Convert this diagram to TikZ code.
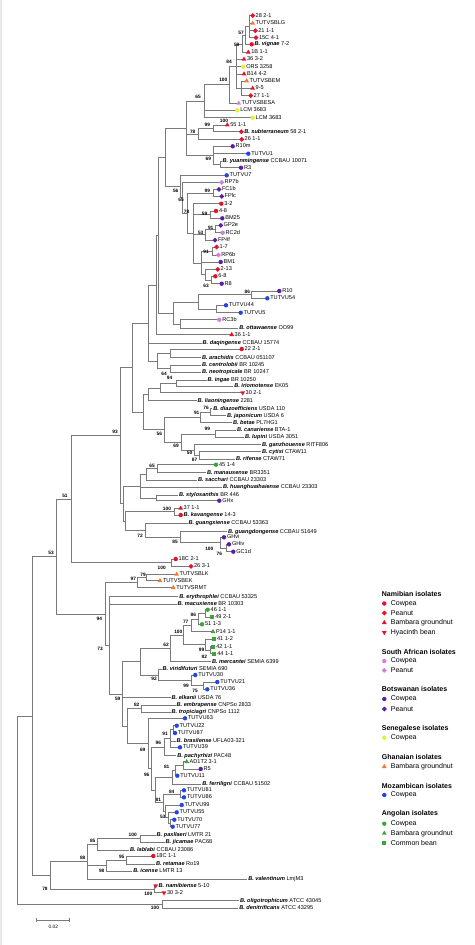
\documentclass[tikz,border=0pt]{standalone}
\usepackage{fontspec}
\setmainfont{Liberation Sans}
\usetikzlibrary{shapes.geometric}
\definecolor{cbr}{HTML}{7A7A7A}
\definecolor{cred}{HTML}{E8102A}
\definecolor{clil}{HTML}{D07FE0}
\definecolor{cpur}{HTML}{5A1FA6}
\definecolor{cyel}{HTML}{E6F03A}
\definecolor{cora}{HTML}{F07A2E}
\definecolor{cblu}{HTML}{2345E6}
\definecolor{cgrn}{HTML}{3DA535}
\definecolor{cstrip}{HTML}{E8E8E8}
\newcommand\spn[1]{\textbf{\textit{#1}}}
\newcommand\mkl[3]{\node[#2] (#1m) at (#1) {}; \node[lab] (#1t) at ([xshift=2.8pt]#1) {#3};}
\newcommand\spl[2]{\node[lab] (#1t) at ([xshift=0.8pt]#1) {#2};}
\begin{document}
\begin{tikzpicture}[x=1pt,y=-1pt,
  br/.style={draw=cbr, line width=0.6pt},
  mk/.style={inner sep=0pt, outer sep=0pt, draw=none},
  circ/.style={mk, circle, minimum size=4.4pt},
  tri/.style={mk, regular polygon, regular polygon sides=3, minimum size=5.6pt},
  itri/.style={tri, shape border rotate=180},
  dia/.style={mk, diamond, minimum size=5pt},
  sqr/.style={mk, rectangle, minimum size=3.8pt},
  rc/.style={circ, fill=cred}, rd/.style={dia, fill=cred}, rt/.style={tri, fill=cred}, rv/.style={itri, fill=cred},
  lc/.style={circ, fill=clil}, ld/.style={dia, fill=clil}, lt/.style={tri, fill=clil},
  pc/.style={circ, fill=cpur}, pd/.style={dia, fill=cpur},
  yc/.style={circ, fill=cyel}, ot/.style={tri, fill=cora}, bc/.style={circ, fill=cblu},
  gc/.style={circ, fill=cgrn}, gt/.style={tri, fill=cgrn}, gs/.style={sqr, fill=cgrn},
  lab/.style={anchor=west, inner sep=0pt, text height=3.9pt, text depth=1.1pt, font=\fontsize{5.6}{6.5}\selectfont},
  bs/.style={inner sep=0pt, font=\fontsize{4.8}{5}\selectfont\bfseries},
  lhd/.style={anchor=west, inner sep=0pt, font=\fontsize{7}{8}\selectfont\bfseries},
  lit/.style={anchor=west, inner sep=0pt, font=\fontsize{7}{8}\selectfont}]
\useasboundingbox (0,0) rectangle (474,945);
\fill[cstrip] (0,0) rectangle (2.3,945);
% leaf tips
\foreach \n/\x/\y in {a01/252.7/15.7, a02/252.7/23.3, a03/255.3/30.7, a04/256/37.7, a05/251.7/44.3,
 a06/248.3/52.3, a07/244/59.3, a08/243.3/66.7, a09/244/74, a10/246.7/81, a11/252.7/88.3, a12/250.7/95.7,
 a13/238.7/103.3, a14/237.3/110.3, a15/252.7/117.7, a16/227.3/125, a17/241.3/131.7, a18/241.7/139.3,
 a19/232.7/146.3, a20/248.3/153.7, a21/221.7/161, a22/241/167.7, a23/226.7/175.3, a24/221.7/182.3,
 a25/219/189.3, a26/221.7/196.3, a27/221.3/203.7, a28/216/211, a29/222.3/218.3, a30/220.7/225.3,
 a31/222.7/232.7, a32/215/240, a33/216.7/247, a34/218.3/255, a35/220.7/262, a36/217.7/269.3,
 a37/215.3/276.3, a38/221.7/283.7, a39/279.3/291, a40/267.3/298.3, a41/226/305.3, a42/240.7/312.7,
 a43/219.3/319.7, a44/238.3/328, a45/231.7/334.7, a46/201.7/343, a47/241.7/349, a48/201/357.7,
 a49/201/365, a50/201/372.3, a51/206.7/380, a52/233.3/386.5, a53/242.7/392.7, a54/196.7/400.7,
 a55/212.3/408.7, a56/226/415.7, a57/232/422.7, a58/236/430.3, a59/244/437.3, a60/261/444.7,
 a61/261/451.7, a62/235/459.3, a63/216/464.7, a64/206/472.7, a65/197/480, a66/222/487.3,
 a67/178/495, a68/219.3/500.7, a69/180.7/508.3, a70/180.7/515, a71/187.5/523.3, a72/227/531.7,
 a73/224/537.3, a74/229/544.3, a75/233.3/551.7, a76/175.7/559, a77/191/566.3, a78/176.7/574.3,
 a79/160/580.7, a80/173.3/587.7, a81/178.3/596.7, a82/176.7/604.3, a83/207.7/609.7, a84/212.3/617,
 a85/202/624.3, a86/213/631.7, a87/214/639.3, a88/213.3/646.7, a89/214.3/653.7, a90/211/661.7,
 a91/161.7/669.3, a92/195.3/675, a93/217.3/682, a94/207.3/689.3, a95/170.7/697.7, a96/175.7/705,
 a97/170.7/712.3, a98/185/718.3, a99/176.7/725.7, b00/175/733, b01/175.7/741, b02/180/747.3,
 b03/176.3/755.7, b04/186.7/761.7, b05/200.7/769, b06/177.3/775.7, b07/201.3/784.3, b08/184/790.3,
 b09/184/797.3, b10/181.7/805, b11/176.7/812.3, b12/174.3/819.7, b13/172.7/826.7, b14/155.7/835,
 b15/164.7/842.3, b16/129/850, b17/153.3/856, b18/155/864, b19/132.3/871.3, b20/247.3/879,
 b21/155.7/885.7, b22/164/892.7, b23/239/900.7, b24/238.3/908}
 \coordinate (\n) at (\x,\y);
% internal nodes
\foreach \n/\x/\y in {nAB/249/26.7, n57/245.5/35.5, n58/242/43.9, nT/241/88.35, n84/236.5/66.1,
 n100/229.5/84.7, n65/204/101.2, n99/213/128.35, n78/198.5/133.8, n69/220/164.35, nR/213/155.3,
 nQ/186/128.25, n99b/213.3/192.8, n59/210/214.65, n91/215/229, n53/205/234.5, n91b/212/251,
 n63/211/280, n213/205/274.65, nLow/201.7/262.8, n78c/193/233.25, n65b/187/213, n56/182.7/197.65,
 nR7/180.3/186.5, N165/165.7/157.4, n86/251.7/294.65, n45/216.7/309, nTUT/198.3/301.8,
 nRC/180/323.85, N173/173.3/312.8, N158/158.3/235.1, N156/156/284.9, n22/170/353.35,
 n64/170/368.65, nac/157.3/361, N148/148.3/323, n94/176/383.25, ning/160/388, nlia/148.3/394.35,
 n76/210.7/412.2, n91c/200/417.45, n99c/215/433.8, n87/199/455.5, n50/194/450.1, n69c/181.7/441.95,
 n56b/164/429.7, N143/143.3/412, N132/132.7/367.5, n65c/157.3/468.7, nsac/146.7/474.35,
 nsty/156/497.85, N140/140/486.1, n100k/174/511.65, n76g/226.7/548, n100g/220/542.65,
 n85g/180/537.2, n72/145/530.25, N125/125/520.95, N123/123.3/503.5, N120/120/435.5,
 n18/171.7/562.65, N71/71/499.1, n79/146.7/577.5, n97/137.3/582.6, na/205.7/613.35,
 n86a/198/618.8, n77/191.7/625.25, n82/210/650.2, n99a/205/644.75, n100a/183.3/635,
 n62/170/648.35, n75/203.3/685.65, n99v/191.7/680.3, n92/158/674.8, n6292/140/661.6,
 n82b/141.7/708.65, n91d/173.3/729.35, nb/170/738.3, n96a/164/747, nar/183.3/765.35,
 n81/175/770.5, nf/172.7/777.4, n84b/180/793.8, n77b/170/823.2, n53b/168/817.75, n99d/165/811.4,
 n81b/163.3/802.6, ng/155/790, n96b/151.7/768.5, n69d/148.3/743.4, N127/127.3/726,
 N122/122.7/693.8, N109/109.3/645.25, N105/105.7/613.9, N567/56.7/556.5, n100p/140.7/838.65,
 n85/97.3/844.3, n95/126.7/860, n98/106.7/865.65, n88/87.7/861.65, n100n/154/889.2,
 n78b/50/875.4, N32/32.3/715.95, n100o/162.3/904.35, root/17.3/810.15}
 \coordinate (\n) at (\x,\y);
% branches
\foreach \p/\c in {nAB/a01, nAB/a02, nAB/a03, nAB/a04, n57/nAB, n57/a05, n58/n57, n58/a06,
 nT/a10, nT/a11, nT/a12, n84/n58, n84/a07, n84/a08, n84/a09, n84/nT, n100/n84, n100/a13,
 n65/n100, n65/a14, n65/a15, n99/a16, n99/a17, n78/n99, n78/a18, n69/a21, n69/a22,
 nR/a19, nR/a20, nR/n69, nQ/n65, nQ/n78, nQ/nR, n99b/a25, n99b/a26, n59/a28, n59/a29,
 n91/a30, n91/a31, n53/n91, n53/a32, n91b/a33, n91b/a34, n63/a37, n63/a38, n213/a36, n213/n63,
 nLow/n91b, nLow/a35, nLow/n213, n78c/a27, n78c/n59, n78c/n53, n78c/nLow, n65b/n99b, n65b/n78c,
 n56/a24, n56/n65b, nR7/a23, nR7/n56, N165/nQ, N165/nR7, n86/a39, n86/a40, n45/a41, n45/a42,
 nTUT/n86, nTUT/n45, nRC/a43, nRC/a44, N173/nTUT, N173/nRC, N158/N165, N158/N173,
 N156/N158, N156/a45, n22/a47, n22/a48, n64/a49, n64/a50, nac/n22, nac/n64,
 N148/N156, N148/a46, N148/nac, n94/a51, n94/a52, ning/n94, ning/a53, nlia/ning, nlia/a54,
 n76/a55, n76/a56, n91c/n76, n91c/a57, n99c/a58, n99c/a59, n87/a61, n87/a62, n50/a60, n50/n87,
 n69c/n99c, n69c/n50, n56b/n91c, n56b/n69c, N143/nlia, N143/n56b, N132/N148, N132/N143,
 n65c/a63, n65c/a64, nsac/n65c, nsac/a65, nsty/a67, nsty/a68, N140/nsac, N140/a66, N140/nsty,
 n100k/a69, n100k/a70, n76g/a74, n76g/a75, n100g/a73, n100g/n76g, n85g/a72, n85g/n100g,
 n72/a71, n72/n85g, N125/n100k, N125/n72, N123/N140, N123/N125, N120/N132, N120/N123,
 n18/a76, n18/a77, N71/N120, N71/n18, n79/a78, n79/a79, n97/n79, n97/a80,
 na/a83, na/a84, n86a/na, n86a/a85, n77/n86a, n77/a86, n82/a88, n82/a89, n99a/a87, n99a/n82,
 n100a/n77, n100a/n99a, n62/n100a, n62/a90, n75/a93, n75/a94, n99v/a92, n99v/n75,
 n92/a91, n92/n99v, n6292/n62, n6292/n92, n82b/a96, n82b/a97, n91d/a99, n91d/b00,
 nb/n91d, nb/b01, nb/b02, n96a/nb, n96a/b03, nar/b04, nar/b05, n81/nar, n81/b06, nf/n81, nf/b07,
 n84b/b08, n84b/b09, n77b/b12, n77b/b13, n53b/b11, n53b/n77b, n99d/b10, n99d/n53b,
 n81b/n84b, n81b/n99d, ng/nf, ng/n81b, n96b/n96a, n96b/ng, n69d/a98, n69d/n96b,
 N127/n82b, N127/n69d, N122/n6292, N122/a95, N122/N127, N109/a81, N109/a82, N109/N122,
 N105/n97, N105/N109, N567/N71, N567/N105, n100p/b14, n100p/b15, n85/n100p, n85/b16,
 n95/b17, n95/b18, n98/n95, n98/b19, n88/n85, n88/n98, n88/b20, n100n/b21, n100n/b22,
 n78b/n88, n78b/n100n, N32/N567, N32/n78b, n100o/b23, n100o/b24, root/N32, root/n100o}
 \draw[br] (\p) |- (\c);
% leaf markers and labels
\mkl{a01}{rd}{28 2-1} \mkl{a02}{ot}{TUTVSBLG} \mkl{a03}{rd}{21 1-1} \mkl{a04}{rd}{15C 4-1}
\mkl{a05}{rc}{\spn{B. vignae} 7-2} \mkl{a06}{rt}{1B 1-1} \mkl{a07}{rt}{36 3-2} \mkl{a08}{yc}{ORS 3258}
\mkl{a09}{rt}{B14 4-2} \mkl{a10}{ot}{TUTVSBEM} \mkl{a11}{rt}{9-5} \mkl{a12}{rd}{27 1-1}
\mkl{a13}{lt}{TUTVSBESA} \mkl{a14}{yc}{LCM 3683} \mkl{a15}{yc}{LCM 3683} \mkl{a16}{rt}{55 1-1}
\mkl{a17}{rd}{\spn{B. subterraneum} 58 2-1} \mkl{a18}{rd}{26 1-1} \mkl{a19}{pc}{R10m} \mkl{a20}{bc}{TUTVU1}
\spl{a21}{\spn{B. yuanmingense} CCBAU 10071} \mkl{a22}{pc}{R3} \mkl{a23}{bc}{TUTVU7} \mkl{a24}{ld}{RP7b}
\mkl{a25}{pd}{FC1b} \mkl{a26}{pd}{FPlc} \mkl{a27}{rc}{3-2} \mkl{a28}{rc}{4-8} \mkl{a29}{pc}{BM25}
\mkl{a30}{pd}{GP2e} \mkl{a31}{lc}{RC2d} \mkl{a32}{pd}{FP4f} \mkl{a33}{rd}{1-7} \mkl{a34}{ld}{RP6b}
\mkl{a35}{pc}{BM1} \mkl{a36}{rd}{2-13} \mkl{a37}{rc}{6-8} \mkl{a38}{pc}{R8} \mkl{a39}{pc}{R10}
\mkl{a40}{bc}{TUTVU54} \mkl{a41}{bc}{TUTVU44} \mkl{a42}{bc}{TUTVU5} \mkl{a43}{lc}{RC3b}
\spl{a44}{\spn{B. ottawaense} OO99} \mkl{a45}{rt}{36 1-1} \spl{a46}{\spn{B. daqingense} CCBAU 15774}
\mkl{a47}{rc}{22 2-1} \spl{a48}{\spn{B. arachidis} CCBAU 051107} \spl{a49}{\spn{B. centrolobii} BR 10245}
\spl{a50}{\spn{B. neotropicale} BR 10247} \spl{a51}{\spn{B. ingae} BR 10250} \spl{a52}{\spn{B. iriomotense} EK05}
\mkl{a53}{rv}{30 2-1} \spl{a54}{\spn{B. liaoningense} 2281} \spl{a55}{\spn{B. diazoefficiens} USDA 110}
\spl{a56}{\spn{B. japonicum} USDA 6} \spl{a57}{\spn{B. betae} PL7HG1} \spl{a58}{\spn{B. canariense} BTA-1}
\spl{a59}{\spn{B. lupini} USDA 3051} \spl{a60}{\spn{B. ganzhouense} RITF806} \spl{a61}{\spn{B. cytisi} CTAW11}
\spl{a62}{\spn{B. rifense} CTAW71} \mkl{a63}{gc}{45 1-4} \spl{a64}{\spn{B. manausense} BR3351}
\spl{a65}{\spn{B. sacchari} CCBAU 23303} \spl{a66}{\spn{B. huanghuaihaiense} CCBAU 23303}
\spl{a67}{\spn{B. stylosanthis} BR 446} \mkl{a68}{pc}{GHx} \mkl{a69}{rt}{37 1-1}
\mkl{a70}{rc}{\spn{B. kavangense} 14-3} \spl{a71}{\spn{B. guangxiense} CCBAU 53363}
\spl{a72}{\spn{B. guangdongense} CCBAU 51649} \mkl{a73}{pc}{GHvi} \mkl{a74}{pc}{GHiv} \mkl{a75}{pc}{GC1d}
\mkl{a76}{rc}{18C 2-1} \mkl{a77}{rd}{26 3-1} \mkl{a78}{ot}{TUTVSBLK} \mkl{a79}{ot}{TUTVSBEK}
\mkl{a80}{ot}{TUTVSRMT} \spl{a81}{\spn{B. erythrophlei} CCBAU 53325} \spl{a82}{\spn{B. macuxiense} BR 10303}
\mkl{a83}{gc}{46 1-1} \mkl{a84}{gs}{49 2-1} \mkl{a85}{gc}{51 1-3} \mkl{a86}{gt}{P14 1-1}
\mkl{a87}{gs}{41 1-2} \mkl{a88}{gs}{42 1-1} \mkl{a89}{gs}{44 1-1} \spl{a90}{\spn{B. mercantei} SEMIA 6399}
\spl{a91}{\spn{B. viridifuturi} SEMIA 690} \mkl{a92}{bc}{TUTVU30} \mkl{a93}{bc}{TUTVU21} \mkl{a94}{bc}{TUTVU36}
\spl{a95}{\spn{B. elkanii} USDA 76} \spl{a96}{\spn{B. embrapense} CNPSo 2833} \spl{a97}{\spn{B. tropiciagri} CNPSo 1112}
\mkl{a98}{bc}{TUTVU63} \mkl{a99}{bc}{TUTVU22} \mkl{b00}{bc}{TUTVU87} \spl{b01}{\spn{B. brasilense} UFLA03-321}
\mkl{b02}{bc}{TUTVU39} \spl{b03}{\spn{B. pachyrhizi} PAC48} \mkl{b04}{gt}{AD1T2 3-1} \mkl{b05}{pc}{R5}
\mkl{b06}{bc}{TUTVU11} \spl{b07}{\spn{B. ferriligni} CCBAU 51502} \mkl{b08}{bc}{TUTVU81} \mkl{b09}{bc}{TUTVU86}
\mkl{b10}{bc}{TUTVU99} \mkl{b11}{bc}{TUTVU55} \mkl{b12}{bc}{TUTVU70} \mkl{b13}{bc}{TUTVU77}
\spl{b14}{\spn{B. paxllaeri} LMTR 21} \spl{b15}{\spn{B. jicamae} PAC68} \spl{b16}{\spn{B. lablabi} CCBAU 23086}
\mkl{b17}{rc}{18C 1-1} \spl{b18}{\spn{B. retamae} Ro19} \spl{b19}{\spn{B. icense} LMTR 13}
\spl{b20}{\spn{B. valentinum} LmjM3} \mkl{b21}{rv}{\spn{B. namibiense} 5-10} \mkl{b22}{rv}{30 3-2}
\spl{b23}{\spn{B. oligotrophicum} ATCC 43045} \spl{b24}{\spn{B. denitrificans} ATCC 43295}
% bootstrap values
\foreach \t/\x/\y [count=\i] in {57/241/33.3, 58/236.7/45, 84/229/61.7, 100/223.3/80, 65/198/96.5,
 99/207.3/125, 100/224/121.3, 78/192.7/131.7, 69/208.3/159.3, 56/175.7/190.7, 65/181/200.3,
 99/207.3/190.7, 78/186.5/212, 59/204.5/213.5, 91/210.7/227.7, 53/200.7/233.3, 91/206/252,
 63/206/286, 86/247.3/291.7, 64/164/374, 94/169.5/378.3, 76/206/407.7, 91/196.7/413,
 99/207.3/429.3, 56/159.3/434.3, 69/176/446, 50/189.5/453.3, 87/194.5/459.5, 93/115/431.7,
 65/152/466, 100/167/509.3, 72/140/536, 85/175/541.7, 100/209.3/549, 76/219.3/554, 51/65/495.7,
 53/51/553.3, 100/161.7/568.3, 79/143/574.5, 97/133.3/579.2, 94/99.3/619.3, 73/100/649.3,
 86/193.3/615, 77/185.7/621.7, 100/178.3/631.7, 62/166/645, 99/201.5/650, 82/204.3/656.5,
 92/154/679, 99/186/686, 75/195/691, 59/117.7/699, 82/136.7/705, 91/165/734.3, 96/158.3/743.3,
 69/142.7/750, 81/166.7/766.7, 96/146.7/775, 84/171.7/791.7, 81/158.3/800, 53/162.7/816.7,
 100/132.7/835, 85/92.7/840.7, 95/121.7/856.7, 88/82.7/858.3, 98/101.7/870.7, 78/45/889.3,
 100/148.3/894, 100/155/908.3}
 \node[bs] (bs\i) at (\x,\y) {\t};
% scale bar
\coordinate (sb1) at (36.7,920); \coordinate (sb2) at (69,920);
\draw[br] (sb1) -- (sb2);
\draw[br] ([yshift=-1.6pt]sb1) -- ([yshift=1.6pt]sb1);
\draw[br] ([yshift=-1.6pt]sb2) -- ([yshift=1.6pt]sb2);
\node[bs, font=\fontsize{4.8}{5}\selectfont] (sbl) at (53.3,926.7) {0.02};
% legend
\node[lhd] (h1) at (381.7,594) {Namibian isolates};
\node[rc] (g11) at (384.3,603.5) {}; \node[lit] (l11) at (390.7,603.5) {Cowpea};
\node[rd] (g12) at (384.3,613) {}; \node[lit] (l12) at (390.7,613) {Peanut};
\node[rt] (g13) at (384.3,622.7) {}; \node[lit] (l13) at (390.7,622.7) {Bambara groundnut};
\node[rv] (g14) at (384.3,632.4) {}; \node[lit] (l14) at (390.7,632.4) {Hyacinth bean};
\node[lhd] (h2) at (381.7,651.7) {South African isolates};
\node[lc] (g21) at (384.3,661) {}; \node[lit] (l21) at (390.7,661) {Cowpea};
\node[ld] (g22) at (384.3,670.3) {}; \node[lit] (l22) at (390.7,670.3) {Peanut};
\node[lhd] (h3) at (381.7,689.3) {Botswanan isolates};
\node[pc] (g31) at (384.3,699) {}; \node[lit] (l31) at (390.7,699) {Cowpea};
\node[pd] (g32) at (384.3,709) {}; \node[lit] (l32) at (390.7,709) {Peanut};
\node[lhd] (h4) at (381.7,728.3) {Senegalese isolates};
\node[yc] (g41) at (384.3,737.7) {}; \node[lit] (l41) at (390.7,737.7) {Cowpea};
\node[lhd] (h5) at (381.7,756.7) {Ghanaian isolates};
\node[ot] (g51) at (384.3,766.7) {}; \node[lit] (l51) at (390.7,766.7) {Bambara groundnut};
\node[lhd] (h6) at (381.7,785.7) {Mozambican isolates};
\node[bc] (g61) at (384.3,795) {}; \node[lit] (l61) at (390.7,795) {Cowpea};
\node[lhd] (h7) at (381.7,814) {Angolan isolates};
\node[gc] (g71) at (384.3,823.7) {}; \node[lit] (l71) at (390.7,823.7) {Cowpea};
\node[gt] (g72) at (384.3,833.3) {}; \node[lit] (l72) at (390.7,833.3) {Bambara groundnut};
\node[gs] (g73) at (384.3,843) {}; \node[lit] (l73) at (390.7,843) {Common bean};
\end{tikzpicture}
\end{document}
